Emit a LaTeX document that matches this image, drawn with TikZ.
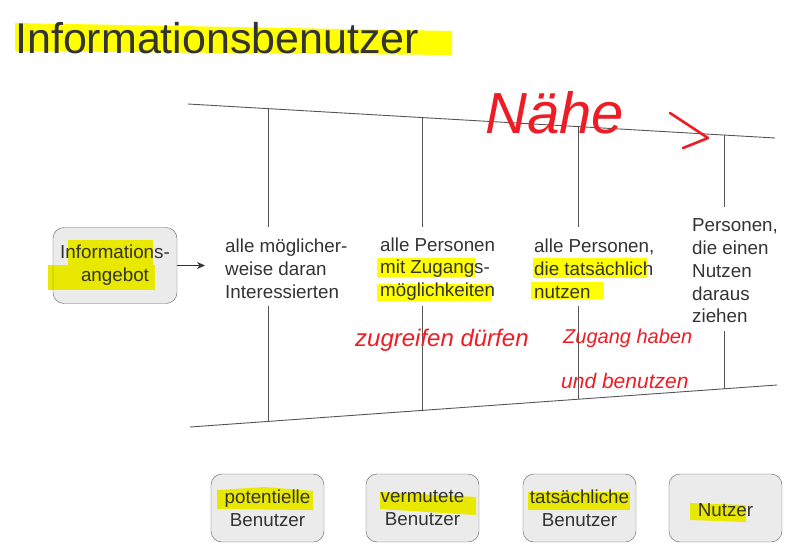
\documentclass[tikz,border=0pt]{standalone}
\usepackage{fontspec}
\setmainfont{Liberation Sans}
\usetikzlibrary{arrows.meta, backgrounds}

\definecolor{txt}{HTML}{333333}
\definecolor{rulegray}{HTML}{555555}
\definecolor{boxfill}{HTML}{EBEBEB}
\definecolor{boxline}{HTML}{666666}
\definecolor{hl}{HTML}{FFFF00}
\definecolor{hlbox}{HTML}{E8E800}
\definecolor{penred}{HTML}{EE1C25}

\begin{document}
\begin{tikzpicture}[
    x = 1pt, y = -1pt,
    >=Stealth,
    font = \fontsize{18.8}{22.8}\selectfont,
    grouptext/.style = {
        anchor = west, align = left, inner sep = 0pt, text = txt
    },
    userbox/.style = {
        rectangle, rounded corners = 11pt,
        minimum width = 113pt, minimum height = 68pt,
        draw = boxline, align = center, inner sep = 0pt, text = txt
    },
    boundary/.style = {rulegray, line width = 0.9pt},
    arrow/.style = {txt, line width = 0.8pt, -{Stealth[length=8pt, width=7pt]}},
    scribble/.style = {text = penred, inner sep = 0pt, anchor = base west},
    pen/.style = {penred, line width = 2.6pt, line cap = round, line join = round}
]
\useasboundingbox (0,0) rectangle (807,555);

% --- Title ---
\node[anchor = base west, inner sep = 0pt, text = txt,
      font = \fontsize{43}{50}\selectfont] (title) at (15,53) {Informationsbenutzer};

% --- Funnel ---
\draw[boundary] (188,104) -- (775,138);
\draw[boundary] (190,427) -- (777,385);

\draw[boundary] (268,108.6) -- (268,227);
\draw[boundary] (422,117.6) -- (422,227);
\draw[boundary] (578,126.6) -- (578,227);
\draw[boundary] (724,135)   -- (724,207);

\draw[boundary] (268,306) -- (268,421.4);
\draw[boundary] (422,306) -- (422,410.4);
\draw[boundary] (578,306) -- (578,399.2);
\draw[boundary] (724,331) -- (724,388.8);

% --- Nodes placed by absolute coordinates ---
\node[userbox, minimum width = 124pt, minimum height = 76pt] (info) at (115,265.5) {Informations-\\angebot};

\node[grouptext] (col1) at (225,269) {alle möglicher-\\weise daran\\Interessierten};
\node[grouptext] (col2) at (380,269) {alle Personen\\mit Zugangs-\\möglichkeiten};
\node[grouptext] (col3) at (534,269) {alle Personen,\\die tatsächlich\\nutzen};
\node[grouptext] (col4) at (692,271) {Personen,\\die einen\\Nutzen\\daraus\\ziehen};

\node[userbox] (pot)  at (267.5,508) {potentielle\\Benutzer};
\node[userbox] (verm) at (422.5,508) {vermutete\\Benutzer};
\node[userbox] (tats) at (579.5,508) {tatsächliche\\Benutzer};
\node[userbox, text height = 18pt] (nutz) at (725.5,508) {Nutzer};

% --- Arrow ---
\draw[arrow, shorten >= 20pt] (info.east) -- (info.east -| col1.west);

% --- Handwritten notes ---
\node[scribble, font = \itshape\fontsize{58}{62}\selectfont] (naehe) at (485,133) {Nähe};
\draw[pen] (670,113) -- (708,138) -- (683,148);
\node[scribble, font = \itshape\fontsize{24}{28}\selectfont] (zugreifen) at (355,346) {zugreifen dürfen};
\node[scribble, font = \itshape\fontsize{20}{24}\selectfont] (zugang) at (563,343) {Zugang haben};
\node[scribble, font = \itshape\fontsize{21}{24}\selectfont] (benutzen) at (561,388) {und benutzen};

% --- Box fills and highlights ---
\begin{pgfonlayer}{background}
  \foreach \b in {info, pot, verm, tats, nutz}
    \fill[boxfill, rounded corners = 11pt] (\b.south west) rectangle (\b.north east);

  \fill[hl] (15,23) -- (452,31) -- (452,55) -- (15,51) -- cycle;
  \fill[hlbox] (68,240) rectangle (153,265);
  \fill[hlbox] (48,265) rectangle (155,290);
  \fill[hl] (377,258) rectangle (475,277);
  \fill[hl] (377,284) rectangle (492,301);
  \fill[hl] (533,258) rectangle (647,278);
  \fill[hl] (531,282) rectangle (604,299);
  \fill[hlbox] (217,490) -- (265,487) -- (313,491) -- (313,510) -- (217,509) -- cycle;
  \fill[hlbox] (380,492) -- (476,497) -- (476,515) -- (380,509) -- cycle;
  \fill[hlbox] (528,492) rectangle (630,510);
  \fill[hlbox] (690,503) -- (746,505) -- (746,522) -- (690,520) -- cycle;
\end{pgfonlayer}

\end{tikzpicture}
\end{document}
